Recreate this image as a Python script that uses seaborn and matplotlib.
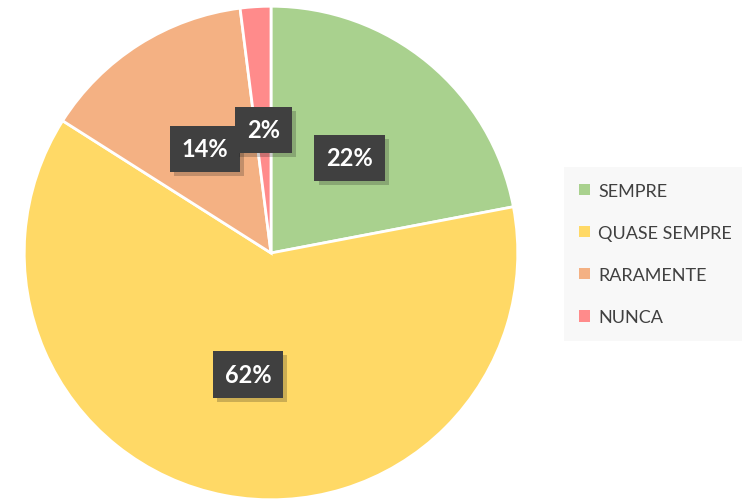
import matplotlib
matplotlib.use("Agg")
import matplotlib.pyplot as plt
import matplotlib.patheffects as pe
from matplotlib.patches import Patch
import seaborn as sns

# data
categories = ['SEMPRE', 'QUASE SEMPRE', 'RARAMENTE', 'NUNCA']
values = [22, 62, 14, 2]
colors = ['#A9D18E', '#FFD966', '#F4B183', '#FF8B8B']

sns.set_theme(style="white")
plt.rcParams['font.family'] = ['Lato', 'DejaVu Sans']

W, H = 742, 502
fig = plt.figure(figsize=(W / 100, H / 100), dpi=100)
fig.patch.set_facecolor('white')

cx, cy, r = 271, 254, 248
ax = fig.add_axes([(cx - r) / W, (H - cy - r) / H, 2 * r / W, 2 * r / H])

wedges, texts, autotexts = ax.pie(
    values,
    colors=colors,
    startangle=90,
    counterclock=False,
    autopct='%d%%',
    pctdistance=0.5,
    wedgeprops=dict(edgecolor='white', linewidth=2),
    textprops=dict(color='white', fontsize=17, fontweight='bold'),
)
ax.set_xlim(-1.005, 1.005)
ax.set_ylim(-1.005, 1.005)
ax.set_aspect('equal')

for t in autotexts:
    t.set_bbox(dict(boxstyle='square,pad=0.5', facecolor='#404040', edgecolor='none'))
    t.get_bbox_patch().set_path_effects(
        [pe.SimplePatchShadow(offset=(3, -3), alpha=0.22), pe.Normal()])

handles = [Patch(facecolor=c, edgecolor='none') for c in colors]
leg = fig.legend(
    handles, categories,
    loc='center left',
    bbox_to_anchor=(564 / W, (H - 255) / H),
    frameon=True,
    fontsize=13,
    handlelength=0.6,
    handleheight=0.6,
    handletextpad=0.45,
    labelspacing=1.45,
    borderpad=0.85,
    borderaxespad=0,
)
frame = leg.get_frame()
frame.set_facecolor('#F7F7F7')
frame.set_edgecolor('none')
frame.set_boxstyle('square', pad=0)
for txt in leg.get_texts():
    txt.set_color('#404040')

fig.savefig('out.png', dpi=100)
